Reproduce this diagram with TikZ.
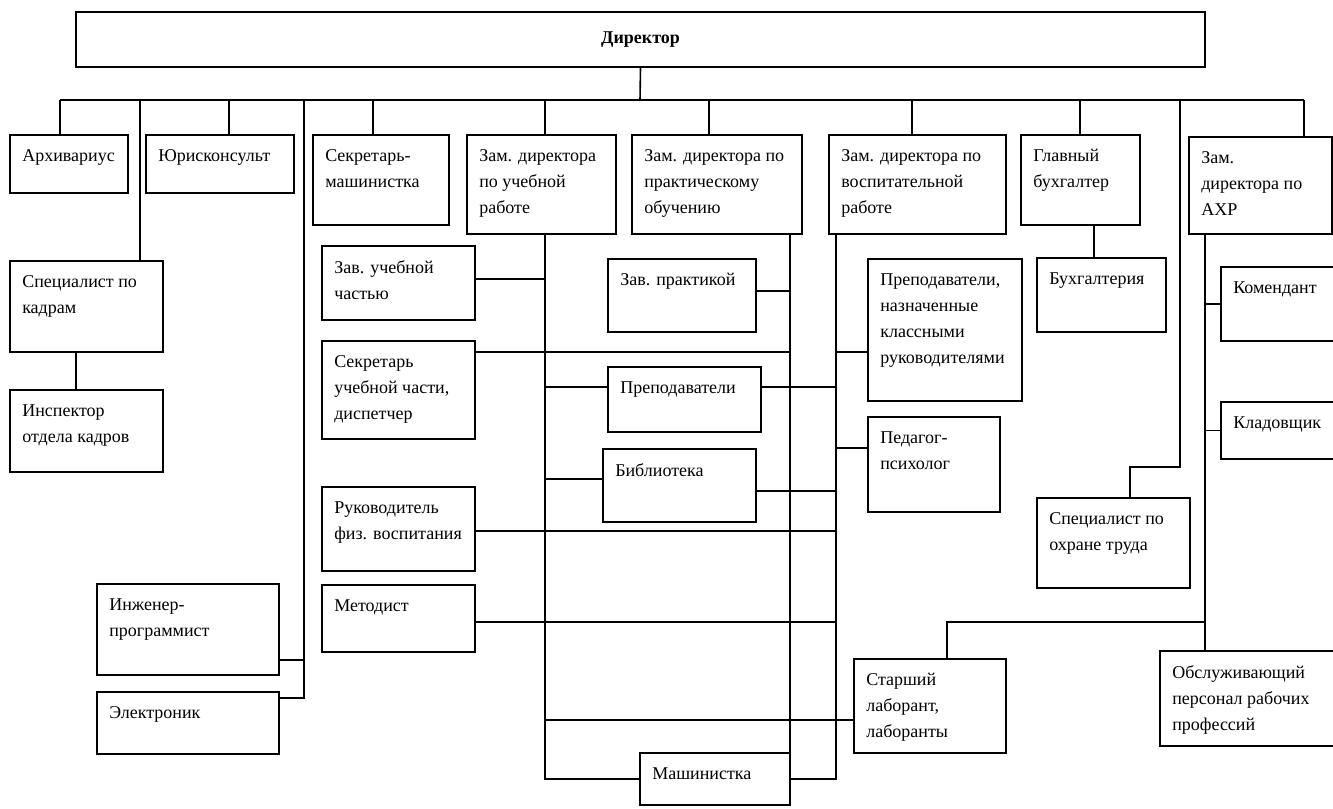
\documentclass[tikz,border=0pt]{standalone}
\usepackage{fontspec}
\setmainfont{Liberation Serif}
\usetikzlibrary{fit}
\tikzset{
  box/.style={draw, rectangle, inner sep=0pt, outer sep=0pt, line width=1.2pt},
  txt/.style={anchor=north west, inner sep=0pt, align=left, font=\fontsize{13.5}{19.5}\selectfont},
  conn/.style={line width=1.2pt}
}
\newcommand\bx[6]{%
  \node[box, fit={(#2,#3) (#4,#5)}] (#1) {};
  \node[txt] (#1t) at ([shift={(12,14)}]#1.north west) {#6};}
\begin{document}
\begin{tikzpicture}[x=0.75pt,y=-0.75pt]
\useasboundingbox (0,0) rectangle (1333,808);
\fill[white] (0,0) rectangle (1333,808);
\clip (0,0) rectangle (1333,808);

% director
\node[box, fit={(76,12) (1205,67)}] (dir) {};
\node[font=\fontsize{13.5}{19.5}\selectfont\bfseries, inner sep=0pt] (dirt) at (dir.center) {Директор};

% boxes
\bx{arch}{10}{135}{128}{193}{Архивариус}
\bx{jur}{146}{135}{294}{193}{Юрисконсульт}
\bx{secm}{313}{135}{449}{225}{Секретарь-\\машинистка}
\bx{zu}{467}{135}{616}{234}{Зам. директора\\по учебной\\работе}
\bx{zp}{632}{135}{802}{234}{Зам. директора по\\практическому\\обучению}
\bx{zv}{829}{135}{1006}{234}{Зам. директора по\\воспитательной\\работе}
\bx{gb}{1021}{135}{1140}{225}{Главный\\бухгалтер}
\bx{zahr}{1189}{137}{1332}{234}{Зам.\\директора по\\АХР}
\bx{kadr}{10}{261}{163}{352}{Специалист по\\кадрам}
\bx{insp}{10}{390}{163}{472}{Инспектор\\отдела кадров}
\bx{ing}{97}{584}{279}{675}{Инженер-\\программист}
\bx{el}{97}{692}{279}{754}{Электроник}
\bx{zuch}{322}{246}{475}{320}{Зав. учебной\\частью}
\bx{suc}{322}{341}{475}{439}{Секретарь\\учебной части,\\диспетчер}
\bx{rfv}{322}{487}{475}{571}{Руководитель\\физ. воспитания}
\bx{met}{322}{585}{475}{652}{Методист}
\bx{zpr}{608}{259}{756}{332}{Зав. практикой}
\bx{prep}{608}{367}{761}{432}{Преподаватели}
\bx{bib}{603}{449}{756}{522}{Библиотека}
\bx{mash}{640}{753}{790}{805}{Машинистка}
\bx{pkr}{868}{259}{1022}{401}{Преподаватели,\\назначенные\\классными\\руководителями}
\bx{pp}{868}{417}{1000}{512}{Педагог-\\психолог}
\bx{buh}{1037}{258}{1166}{332}{Бухгалтерия}
\bx{ot}{1037}{498}{1190}{588}{Специалист по\\охране труда}
\bx{lab}{854}{659}{1006}{753}{Старший\\лаборант,\\лаборанты}
\bx{kom}{1221}{267}{1350}{341}{Комендант}
\bx{klad}{1221}{402}{1350}{459}{Кладовщик}
\bx{obs}{1160}{651}{1350}{746}{Обслуживающий\\персонал рабочих\\профессий}

% top bus
\coordinate (bd) at (640,100);
\coordinate (b1) at (60,100);
\coordinate (b2) at (140,100);
\coordinate (b3) at (229,100);
\coordinate (b4) at (304,100);
\coordinate (b5) at (373,100);
\coordinate (b6) at (545,100);
\coordinate (b7) at (709,100);
\coordinate (b8) at (912,100);
\coordinate (b9) at (1080,100);
\coordinate (b10) at (1180,100);
\coordinate (b11) at (1304,100);
\draw[conn] (dir.south) -- (bd);
\draw[conn] (b1) -- (b11);
\draw[conn] (b1) -- (b1 |- arch.north);
\draw[conn] (b2) -- (b2 |- kadr.north);
\draw[conn] (b3) -- (b3 |- jur.north);
\draw[conn] (b5) -- (b5 |- secm.north);
\draw[conn] (b6) -- (b6 |- zu.north);
\draw[conn] (b7) -- (b7 |- zp.north);
\draw[conn] (b8) -- (b8 |- zv.north);
\draw[conn] (b9) -- (b9 |- gb.north);
\draw[conn] (b11) -- (b11 |- zahr.north);

% left branch: IT
\coordinate (e4) at (304,698);
\draw[conn] (b4) -- (e4) -- (e4 -| el.east);
\coordinate (i4) at (304,660);
\draw[conn] (i4) -- (i4 -| ing.east);

% personnel
\coordinate (k1) at (76,352);
\draw[conn] (k1) -- (k1 |- insp.north);

% accounting
\coordinate (g1) at (1094,225);
\draw[conn] (g1) -- (g1 |- buh.north);

% labour safety
\coordinate (s1) at (1180,467);
\coordinate (s2) at (1130,467);
\draw[conn] (b10) -- (s1) -- (s2) -- (s2 |- ot.north);

% AXP
\coordinate (a1) at (1205,234);
\coordinate (a2) at (1205,622);
\coordinate (a3) at (947,622);
\draw[conn] (a1) -- (a1 |- obs.north);
\draw[conn] (a1 |- kom.west) -- (kom.west);
\draw[conn] (a1 |- klad.west) -- (klad.west);
\draw[conn] (a2) -- (a3) -- (a3 |- lab.north);

% teaching vertical
\coordinate (u1) at (545,234);
\coordinate (u2) at (545,779);
\draw[conn] (u1) -- (u2) -- (u2 -| mash.west);
\coordinate (p1) at (790,234);
\draw[conn] (p1) -- (p1 |- mash.north);
\coordinate (v1) at (836,234);
\coordinate (v2) at (836,779);
\draw[conn] (v1) -- (v2) -- (v2 -| mash.east);

% horizontals
\coordinate (h1) at (475,279);
\draw[conn] (h1) -- (h1 -| u1);
\coordinate (h2) at (475,352);
\draw[conn] (h2) -- (h2 -| p1);
\coordinate (h3) at (545,387);
\draw[conn] (h3) -- (h3 -| prep.west);
\coordinate (h3r) at (761,387);
\draw[conn] (h3r) -- (h3r -| v1);
\coordinate (h4) at (836,352);
\draw[conn] (h4) -- (h4 -| pkr.west);
\coordinate (h5) at (836,448);
\draw[conn] (h5) -- (h5 -| pp.west);
\coordinate (h6) at (545,479);
\draw[conn] (h6) -- (h6 -| bib.west);
\coordinate (h6r) at (756,491);
\draw[conn] (h6r) -- (h6r -| v1);
\coordinate (h7) at (756,291);
\draw[conn] (h7) -- (h7 -| p1);
\coordinate (h8) at (475,531);
\draw[conn] (h8) -- (h8 -| v1);
\coordinate (h9) at (475,622);
\draw[conn] (h9) -- (h9 -| v1);
\coordinate (h10) at (545,720);
\draw[conn] (h10) -- (h10 -| lab.west);
\end{tikzpicture}
\end{document}
